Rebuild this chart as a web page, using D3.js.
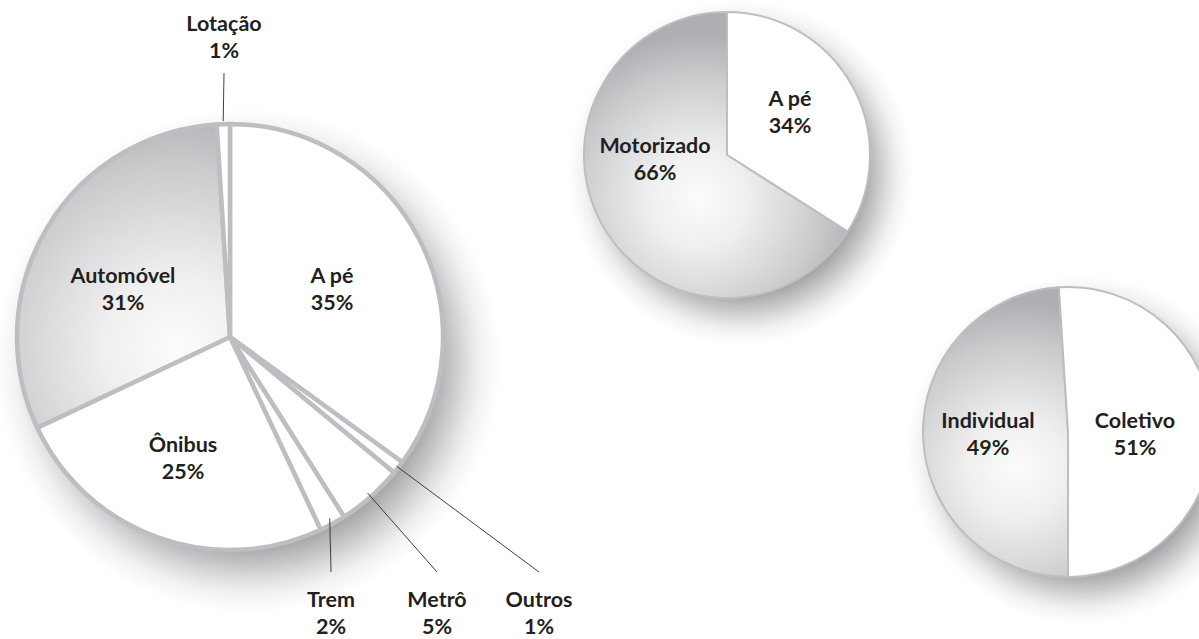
<!DOCTYPE html>
<html>
<head>
<meta charset="utf-8">
<script src="https://cdn.jsdelivr.net/npm/d3@7"></script>
<style>
  body { margin: 0; background: #fff; }
  text { font-family: Lato, "Open Sans", sans-serif; font-weight: 700; fill: #231f20; font-size: 21.5px; }
</style>
</head>
<body>
<svg id="chart" width="1199" height="639"></svg>
<script>
// data
var mainCats = ["A pé", "Outros", "Metrô", "Trem", "Ônibus", "Automóvel", "Lotação"];
var mainVals = [35, 1, 5, 2, 25, 31, 1];
var modoCats = ["A pé", "Motorizado"];
var modoVals = [34, 66];
var tipoCats = ["Individual", "Coletivo"];
var tipoVals = [49, 51];

// which slices are shaded grey
var shaded = ["Automóvel", "Motorizado", "Individual"];

const svg = d3.select("#chart");
const defs = svg.append("defs");

function drawPie(id, cats, vals, cx, cy, r, opt) {
  var data = cats.map(function (c, i) { return { cat: c, v: vals[i] }; });
  var pie = d3.pie().sort(null).value(d => d.v).startAngle(opt.start).endAngle(opt.start + 2 * Math.PI);
  var arcs = pie(data);
  var arc = d3.arc().innerRadius(0).outerRadius(r);

  // gradient lives in the group's (translated) coordinates
  var grad = defs.append("radialGradient")
    .attr("id", "grad-" + id)
    .attr("gradientUnits", "userSpaceOnUse")
    .attr("cx", opt.light[0] * r)
    .attr("cy", opt.light[1] * r)
    .attr("r", r * 1.15);
  grad.append("stop").attr("offset", 0).attr("stop-color", "#fcfcfc");
  grad.append("stop").attr("offset", 0.3).attr("stop-color", "#efeff0");
  grad.append("stop").attr("offset", 0.75).attr("stop-color", "#c9cacc");
  grad.append("stop").attr("offset", 1).attr("stop-color", "#adafb2");

  // soft drop shadow, a fading disc behind the pie
  var spread = opt.spread;
  var sg = defs.append("radialGradient")
    .attr("id", "shadow-" + id)
    .attr("gradientUnits", "userSpaceOnUse")
    .attr("cx", cx + opt.shadow[0])
    .attr("cy", cy + opt.shadow[1])
    .attr("r", r + spread);
  sg.append("stop").attr("offset", (r - spread) / (r + spread)).attr("stop-color", "#7a7c7f").attr("stop-opacity", 0.85);
  sg.append("stop").attr("offset", (r - spread * 0.2) / (r + spread)).attr("stop-color", "#8e9093").attr("stop-opacity", 0.5);
  sg.append("stop").attr("offset", (r + spread * 0.5) / (r + spread)).attr("stop-color", "#a5a7aa").attr("stop-opacity", 0.15);
  sg.append("stop").attr("offset", 1).attr("stop-color", "#b0b2b5").attr("stop-opacity", 0);

  svg.append("circle")
    .attr("cx", cx + opt.shadow[0])
    .attr("cy", cy + opt.shadow[1])
    .attr("r", r + spread)
    .attr("fill", "url(#shadow-" + id + ")");

  var g = svg.append("g").attr("transform", "translate(" + cx + "," + cy + ")");

  g.selectAll("path")
    .data(arcs)
    .enter()
    .append("path")
    .attr("d", arc)
    .attr("fill", d => shaded.indexOf(d.data.cat) >= 0 ? "url(#grad-" + id + ")" : "#ffffff")
    .attr("stroke", "#bcbec1")
    .attr("stroke-width", opt.sw)
    .attr("stroke-linejoin", "round");

  // labels
  arcs.forEach(function (d, i) {
    var pos = opt.labels[i];
    if (pos.out) {
      // leader line from the slice edge to the label
      var mid = (d.startAngle + d.endAngle) / 2;
      g.append("line")
        .attr("x1", Math.sin(mid) * pos.lr).attr("y1", -Math.cos(mid) * pos.lr)
        .attr("x2", pos.x).attr("y2", pos.ly)
        .attr("stroke", "#2a2a2a")
        .attr("stroke-width", 0.9);
    }
    var t = g.append("text").attr("text-anchor", "middle");
    t.append("tspan").attr("x", pos.x).attr("y", pos.y).text(d.data.cat);
    t.append("tspan").attr("x", pos.x).attr("y", pos.y + 27).text(d.data.v + "%");
  });
}

// main pie: label positions relative to the centre
drawPie("main", mainCats, mainVals, 230, 337, 213, {
  start: 0, sw: 4.5, light: [-0.25, 0.05], shadow: [18, 24], spread: 40,
  labels: [
    { x: 102, y: -54 },
    { out: true, lr: 211, x: 309, y: 270, ly: 235 },
    { out: true, lr: 208, x: 207, y: 270, ly: 235 },
    { out: true, lr: 207, x: 101, y: 270, ly: 235 },
    { x: -47, y: 115 },
    { x: -107, y: -54 },
    { out: true, lr: 216, x: -6, y: -306, ly: -264 }
  ]
});

drawPie("modo", modoCats, modoVals, 727, 155, 143, {
  start: 0, sw: 2, light: [-0.2, 0.3], shadow: [14, 18], spread: 30,
  labels: [
    { x: 63, y: -49 },
    { x: -72, y: -2 }
  ]
});

drawPie("tipo", tipoCats, tipoVals, 1068, 432, 145, {
  start: Math.PI, sw: 2, light: [-0.35, 0.25], shadow: [14, 18], spread: 30,
  labels: [
    { x: -80, y: -4 },
    { x: 67, y: -4 }
  ]
});
</script>
</body>
</html>
